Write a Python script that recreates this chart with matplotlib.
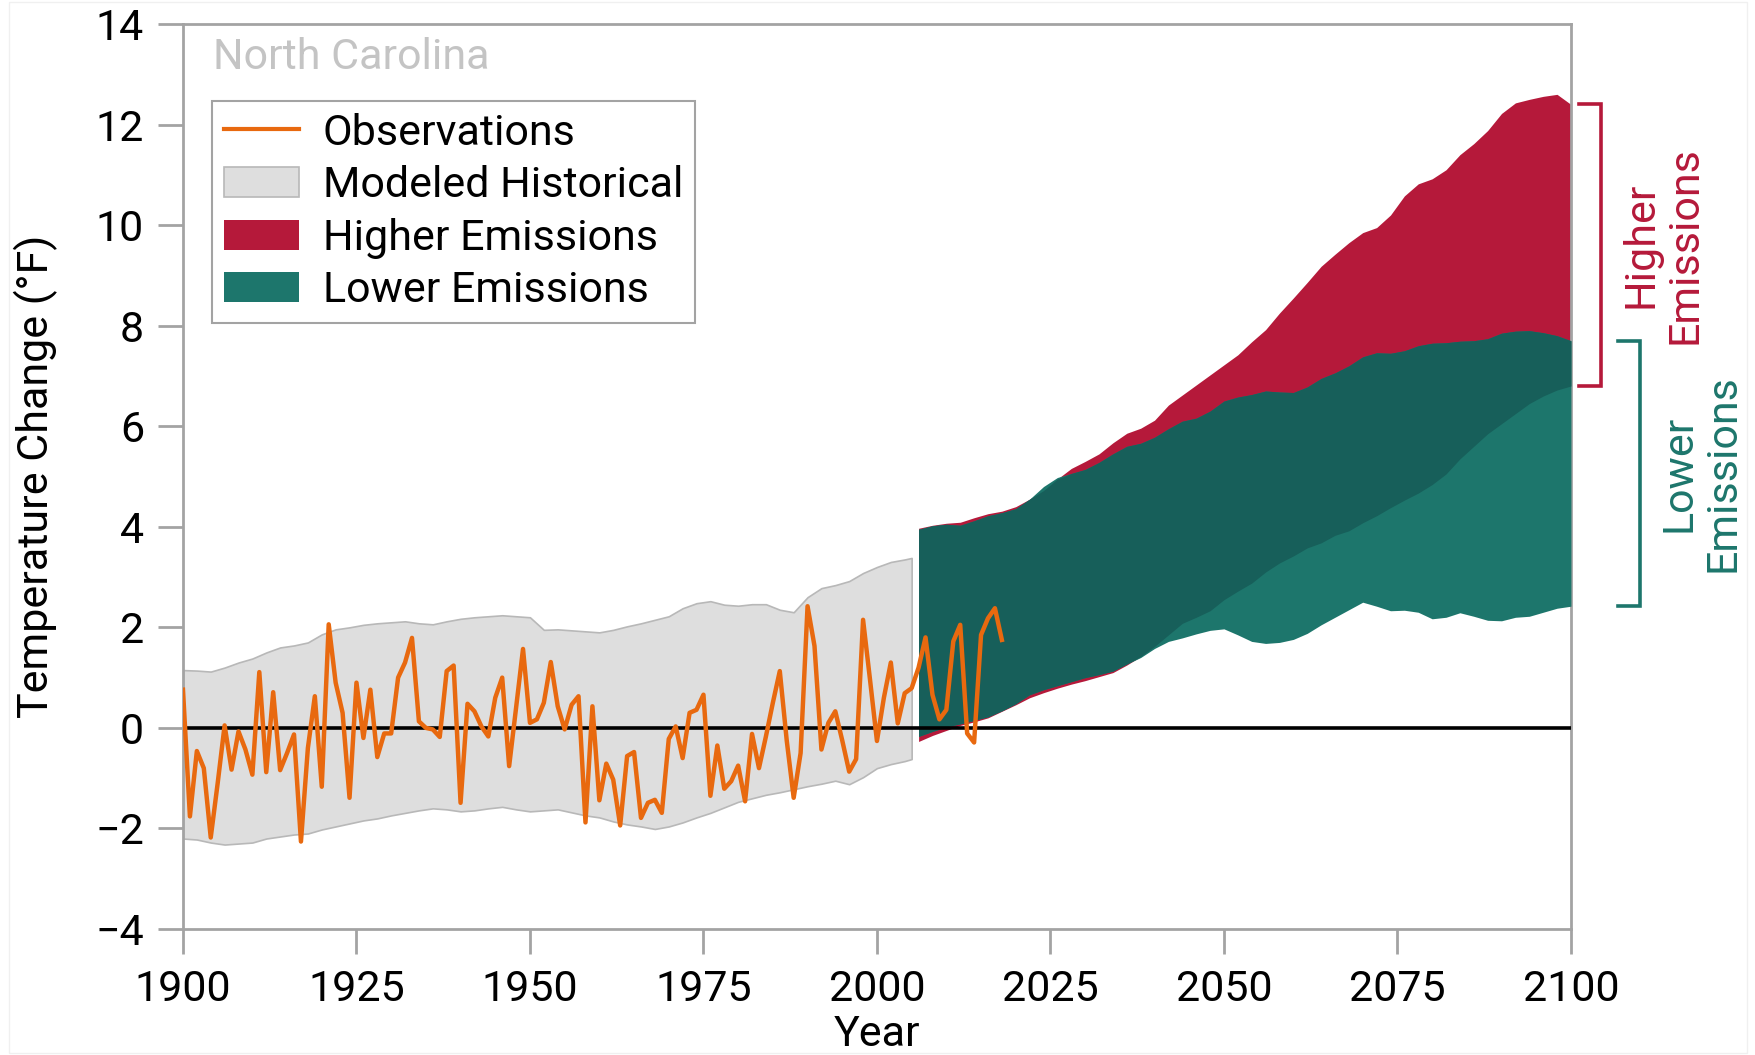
import numpy as np
import matplotlib
matplotlib.use("Agg")
import matplotlib.pyplot as plt
from matplotlib.patches import Patch, Rectangle
from matplotlib.lines import Line2D

plt.rcParams['font.family'] = ['Roboto', 'DejaVu Sans']

# observed annual temperature change, 1900-2018 (deg F)
obs_years = np.arange(1900, 2019)
obs_temp = [
    0.76, -1.76, -0.46, -0.80, -2.18, -1.10, 0.05, -0.83, -0.07, -0.43,
    -0.93, 1.11, -0.88, 0.71, -0.84, -0.50, -0.13, -2.26, -0.40, 0.63,
    -1.17, 2.06, 0.90, 0.30, -1.39, 0.90, -0.20, 0.76, -0.58, -0.11,
    -0.11, 1.00, 1.30, 1.79, 0.13, 0.00, -0.03, -0.18, 1.13, 1.24,
    -1.49, 0.48, 0.33, 0.03, -0.17, 0.60, 1.00, -0.76, 0.40, 1.57,
    0.10, 0.17, 0.50, 1.31, 0.43, -0.03, 0.46, 0.63, -1.88, 0.43,
    -1.44, -0.71, -1.03, -1.94, -0.56, -0.48, -1.79, -1.49, -1.43, -1.69,
    -0.22, 0.03, -0.60, 0.30, 0.36, 0.66, -1.35, -0.35, -1.21, -1.06,
    -0.75, -1.46, -0.12, -0.80, -0.17, 0.50, 1.13, -0.25, -1.39, -0.50,
    2.42, 1.63, -0.43, 0.10, 0.33, -0.25, -0.87, -0.62, 2.15, 0.96,
    -0.26, 0.60, 1.30, 0.09, 0.69, 0.79, 1.20, 1.80, 0.66, 0.17,
    0.36, 1.72, 2.05, -0.11, -0.29, 1.85, 2.18, 2.38, 1.75,
]

# modeled historical range
hist_years = list(range(1900, 2005, 2)) + [2005]
hist_hi = [
    1.15, 1.14, 1.12, 1.20, 1.30, 1.38, 1.50, 1.60, 1.64, 1.70,
    1.86, 1.96, 2.00, 2.05, 2.08, 2.10, 2.12, 2.08, 2.06, 2.12,
    2.17, 2.20, 2.22, 2.24, 2.22, 2.20, 1.95, 1.96, 1.94, 1.92,
    1.90, 1.95, 2.02, 2.08, 2.15, 2.22, 2.38, 2.48, 2.52, 2.45,
    2.43, 2.46, 2.46, 2.35, 2.30, 2.60, 2.78, 2.84, 2.92, 3.08,
    3.20, 3.30, 3.35, 3.38,
]
hist_lo = [
    -2.20, -2.22, -2.28, -2.32, -2.30, -2.28, -2.20, -2.16, -2.12, -2.10,
    -2.02, -1.96, -1.90, -1.84, -1.80, -1.74, -1.69, -1.64, -1.60, -1.62,
    -1.66, -1.64, -1.60, -1.57, -1.62, -1.66, -1.64, -1.62, -1.68, -1.74,
    -1.78, -1.86, -1.92, -1.96, -2.01, -1.96, -1.88, -1.78, -1.69, -1.58,
    -1.47, -1.40, -1.33, -1.28, -1.22, -1.16, -1.11, -1.05, -1.12, -0.98,
    -0.80, -0.72, -0.66, -0.62,
]

# projected ranges, 2006-2100
proj_years = np.arange(2006, 2101, 2)
high_hi = [
    3.97, 4.03, 4.07, 4.09, 4.18, 4.26, 4.31, 4.40, 4.55, 4.72,
    4.95, 5.16, 5.30, 5.45, 5.67, 5.86, 5.96, 6.12, 6.42, 6.62,
    6.82, 7.02, 7.22, 7.42, 7.68, 7.92, 8.25, 8.55, 8.86, 9.18,
    9.42, 9.65, 9.85, 9.95, 10.20, 10.58, 10.82, 10.92, 11.10, 11.40,
    11.62, 11.88, 12.22, 12.43, 12.50, 12.56, 12.60, 12.40,
]
high_lo = [
    -0.27, -0.15, -0.05, 0.05, 0.12, 0.20, 0.33, 0.46, 0.60, 0.70,
    0.79, 0.87, 0.94, 1.02, 1.10, 1.25, 1.42, 1.62, 1.85, 2.08,
    2.20, 2.33, 2.55, 2.72, 2.88, 3.10, 3.28, 3.42, 3.58, 3.68,
    3.83, 3.92, 4.08, 4.22, 4.38, 4.53, 4.67, 4.84, 5.05, 5.35,
    5.60, 5.85, 6.05, 6.25, 6.45, 6.60, 6.72, 6.80,
]
low_hi = [
    3.95, 4.02, 4.05, 4.03, 4.12, 4.22, 4.28, 4.36, 4.55, 4.80,
    4.98, 5.06, 5.14, 5.28, 5.45, 5.60, 5.66, 5.78, 5.95, 6.10,
    6.16, 6.30, 6.50, 6.58, 6.63, 6.70, 6.68, 6.67, 6.78, 6.95,
    7.06, 7.20, 7.38, 7.46, 7.45, 7.50, 7.60, 7.65, 7.66, 7.69,
    7.70, 7.74, 7.85, 7.89, 7.90, 7.86, 7.80, 7.70,
]
low_lo = [
    -0.17, -0.07, 0.02, 0.08, 0.15, 0.22, 0.34, 0.48, 0.66, 0.76,
    0.84, 0.92, 1.00, 1.06, 1.13, 1.27, 1.40, 1.58, 1.72, 1.79,
    1.87, 1.94, 1.97, 1.85, 1.72, 1.68, 1.70, 1.76, 1.88, 2.05,
    2.20, 2.35, 2.50, 2.42, 2.33, 2.34, 2.30, 2.17, 2.20, 2.29,
    2.22, 2.14, 2.13, 2.20, 2.22, 2.30, 2.38, 2.42,
]

c_obs = '#e8690f'
c_hist = '#dedede'
c_high = '#b5193a'
c_low = '#1d766c'
c_both = '#175f5a'
c_axis = '#a3a3a3'
fs = 31

fig = plt.figure(figsize=(17.56, 10.55), dpi=100)
ax = fig.add_axes([0.1042, 0.1194, 0.7904, 0.8579])

ax.fill_between(hist_years, hist_lo, hist_hi, facecolor=c_hist,
                edgecolor='#b8b8b8', linewidth=1.2, zorder=1)

hh, hl = np.array(high_hi), np.array(high_lo)
lh, ll = np.array(low_hi), np.array(low_lo)
ax.fill_between(proj_years, hl, hh, color=c_high, lw=0, zorder=2)
ax.fill_between(proj_years, ll, lh, color=c_low, lw=0, zorder=3)
top, bot = np.minimum(hh, lh), np.maximum(hl, ll)
ax.fill_between(proj_years, bot, top, where=top > bot, interpolate=True,
                color=c_both, lw=0, zorder=4)

ax.axhline(0, color='black', lw=2.6, zorder=5)
ax.plot(obs_years, obs_temp, color=c_obs, lw=3.2, zorder=6)

ax.set_xlim(1900, 2100)
ax.set_ylim(-4, 14)
ax.set_xticks(range(1900, 2101, 25))
ax.set_yticks(range(-4, 15, 2))
for s in ax.spines.values():
    s.set_color(c_axis)
    s.set_linewidth(2)
ax.tick_params(length=18, width=2, color=c_axis, labelsize=fs, pad=10)
ax.tick_params(axis='x', pad=11)

ax.set_xlabel('Year', fontsize=fs)
ax.xaxis.set_label_coords(0.5, -0.094)
ax.set_ylabel('Temperature Change (°F)', fontsize=fs)
ax.yaxis.set_label_coords(-0.09, 0.5)

ax.text(0.0216, 0.9624, 'North Carolina', transform=ax.transAxes,
        fontsize=fs, color='#c4c4c4', va='center', ha='left')

handles = [
    Line2D([], [], color=c_obs, lw=3),
    Patch(facecolor=c_hist, edgecolor='#b8b8b8', lw=1.2),
    Patch(facecolor=c_high, lw=0),
    Patch(facecolor=c_low, lw=0),
]
labels = ['Observations', 'Modeled Historical', 'Higher Emissions', 'Lower Emissions']
leg = ax.legend(handles, labels, loc='upper left', bbox_to_anchor=(0.0209, 0.915),
                borderaxespad=0, fontsize=fs, fancybox=False, framealpha=1,
                edgecolor=c_axis, handlelength=1.75, handletextpad=0.55,
                labelspacing=0.27, borderpad=0.27)
leg.get_frame().set_linewidth(1.5)

# scenario brackets at 2100, to the right of the plot
def bracket(x0, x1, lo, hi, color, label, xt):
    ax.plot([x0, x1, x1, x0], [hi, hi, lo, lo], color=color, lw=2.6,
            clip_on=False, solid_joinstyle='miter')
    ax.text(xt, (lo + hi) / 2, label, rotation=90, color=color, fontsize=fs,
            ha='center', va='center', multialignment='center',
            linespacing=1.1, clip_on=False)

bracket(2101.2, 2104.4, high_lo[-1], high_hi[-1], c_high, 'Higher\nEmissions', 2113.3)
bracket(2106.8, 2110.0, low_lo[-1], low_hi[-1], c_low, 'Lower\nEmissions', 2118.7)

fig.patches.append(Rectangle((0.005, 0.002), 0.99, 0.996, transform=fig.transFigure,
                             fill=False, edgecolor='#f0f0f0', lw=1))

fig.savefig('out.png', dpi=100, facecolor='white')
